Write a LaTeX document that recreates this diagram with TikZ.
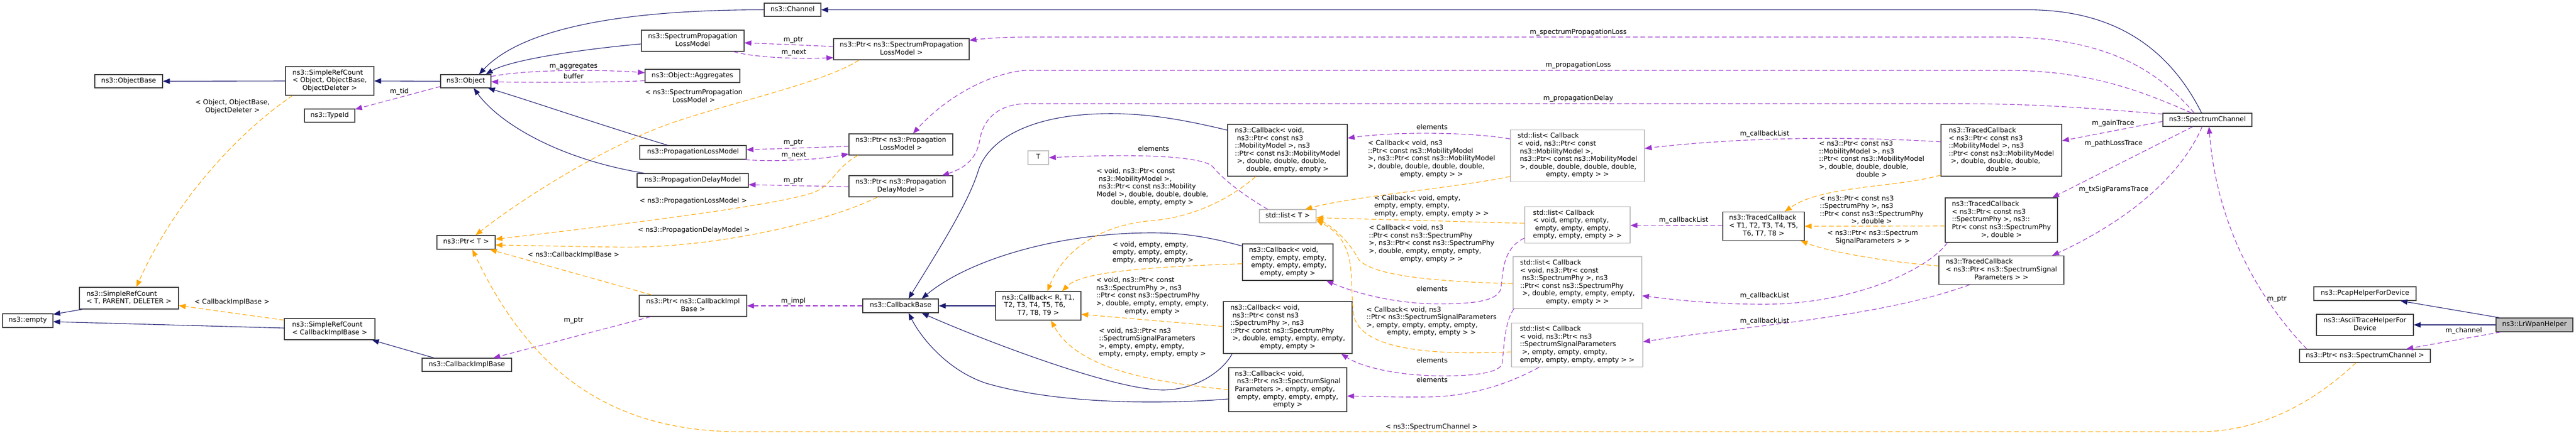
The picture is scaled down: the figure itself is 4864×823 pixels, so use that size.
\documentclass[tikz,border=0pt]{standalone}
\usepackage{fontspec}
\setmainfont{DejaVu Sans}
\usetikzlibrary{arrows.meta}
\definecolor{inhc}{HTML}{191970}
\definecolor{usec}{HTML}{9A32CD}
\definecolor{tplc}{HTML}{FFA500}
\definecolor{bordc}{HTML}{404040}
\definecolor{greyc}{HTML}{BFBFBF}
\newcommand\dfont{\fontsize{12.7bp}{14.6bp}\selectfont}
\newcommand\mlines[2]{\begin{tabular}{@{}l@{}}#1\\\multicolumn{1}{@{}c@{}}{#2}\end{tabular}}
\begin{document}
\begin{tikzpicture}[x=1bp,y=-1bp,
  box/.style={draw=bordc, line width=1.2bp, fill=white, inner sep=0pt, font=\dfont, text=black},
  lbox/.style={box, draw=greyc},
  sz/.style 2 args={minimum width=#1bp, minimum height=#2bp},
  lbl/.style={inner sep=0pt, font=\dfont, text=black},
  tipA/.style={-{Triangle[length=13bp,width=10bp]}},
  inh/.style={draw=inhc, line width=1.1bp, tipA},
  use/.style={draw=usec, line width=1.1bp, dash pattern=on 9bp off 5bp, tipA},
  tpl/.style={draw=tplc, line width=1.1bp, dash pattern=on 9bp off 5bp, tipA}]
\fill[white] (0,0) rectangle (4864,823);
\useasboundingbox (0,0) rectangle (4864,823);

% ---------------- nodes ----------------
\node[box,sz={128}{25}] (ObjectBase) at (243,153.5) {\strut ns3::ObjectBase};
\node[box,sz={167}{54}] (SRCObj) at (622.5,153) {\mlines{ns3::SimpleRefCount\\< Object, ObjectBase,}{ObjectDeleter >}};
\node[box,sz={95}{25}] (TypeId) at (622.5,218.5) {\strut ns3::TypeId};
\node[box,sz={187}{41}] (SRCT) at (243.5,563.5) {\mlines{ns3::SimpleRefCount}{< T, PARENT, DELETER >}};
\node[box,sz={95}{26}] (Empty) at (52.5,606) {\strut ns3::empty};
\node[box,sz={171}{40}] (SRCCIB) at (622.5,622) {\mlines{ns3::SimpleRefCount}{< CallbackImplBase >}};
\node[box,sz={95}{25}] (Object) at (879.5,153.5) {\strut ns3::Object};
\node[box,sz={107}{25}] (Channel) at (1496.5,18.5) {\strut ns3::Channel};
\node[box,sz={194}{40}] (SPLM) at (1308,77) {\mlines{ns3::SpectrumPropagation}{LossModel}};
\node[box,sz={179}{25}] (Aggregates) at (1307.5,143.5) {\strut ns3::Object::Aggregates};
\node[box,sz={201}{26}] (PLM) at (1308.5,288) {\strut ns3::PropagationLossModel};
\node[box,sz={210}{26}] (PDM) at (1308,341) {\strut ns3::PropagationDelayModel};
\node[box,sz={110}{26}] (PtrT) at (880,458) {\strut ns3::Ptr< T >};
\node[box,sz={203}{40}] (PtrCIB) at (1308.5,578) {\mlines{ns3::Ptr< ns3::CallbackImpl}{Base >}};
\node[box,sz={169}{25}] (CIB) at (881.5,689.5) {\strut ns3::CallbackImplBase};
\node[box,sz={256}{40}] (PtrSPLM) at (1702,93) {\mlines{ns3::Ptr< ns3::SpectrumPropagation}{LossModel >}};
\node[box,sz={196}{40}] (PtrPLM) at (1701,273) {\mlines{ns3::Ptr< ns3::Propagation}{LossModel >}};
\node[box,sz={196}{40}] (PtrPDM) at (1701,352) {\mlines{ns3::Ptr< ns3::Propagation}{DelayModel >}};
\node[lbox,sz={39}{26}] (T) at (1960.5,298) {\strut T};
\node[box,sz={143}{26}] (CallbackBase) at (1700.5,578) {\strut ns3::CallbackBase};
\node[box,sz={161}{54}] (CallbackR) at (1960.5,578) {\mlines{ns3::Callback< R, T1,\\ \ T2, T3, T4, T5, T6,}{T7, T8, T9 >}};
\node[box,sz={226}{98}] (CbMob) at (2431,284) {\mlines{ns3::Callback< void,\\ \ ns3::Ptr< const ns3\\::MobilityModel >, ns3\\::Ptr< const ns3::MobilityModel\\ \ >, double, double, double,}{double, empty, empty >}};
\node[box,sz={171}{69}] (CbEmpty) at (2431.5,495.5) {\mlines{ns3::Callback< void,\\ \ empty, empty, empty,\\ \ empty, empty, empty,}{empty, empty >}};
\node[box,sz={243}{98}] (CbPhy) at (2431.5,619) {\mlines{ns3::Callback< void,\\ \ ns3::Ptr< const ns3\\::SpectrumPhy >, ns3\\::Ptr< const ns3::SpectrumPhy\\ \ >, double, empty, empty, empty,}{empty, empty >}};
\node[box,sz={223}{83}] (CbSig) at (2431.5,736.5) {\mlines{ns3::Callback< void,\\ \ ns3::Ptr< ns3::SpectrumSignal\\Parameters >, empty, empty,\\ \ empty, empty, empty, empty,}{empty >}};
\node[lbox,sz={107}{25}] (ListT) at (2431.5,408.5) {\strut std::list< T >};
\node[lbox,sz={253}{98}] (ListMob) at (2978.5,294.5) {\mlines{std::list< Callback\\< void, ns3::Ptr< const\\ \ ns3::MobilityModel >,\\ \ ns3::Ptr< const ns3::MobilityModel\\ \ >, double, double, double, double,}{empty, empty > >}};
\node[lbox,sz={199}{69}] (ListEmpty) at (2978.5,425) {\mlines{std::list< Callback\\< void, empty, empty,\\ \ empty, empty, empty,}{empty, empty, empty > >}};
\node[lbox,sz={243}{98}] (ListPhy) at (2978.5,534) {\mlines{std::list< Callback\\< void, ns3::Ptr< const\\ \ ns3::SpectrumPhy >, ns3\\::Ptr< const ns3::SpectrumPhy\\ \ >, double, empty, empty, empty,}{empty, empty > >}};
\node[lbox,sz={248}{83}] (ListSig) at (2978,652) {\mlines{std::list< Callback\\< void, ns3::Ptr< ns3\\::SpectrumSignalParameters\\ \ >, empty, empty, empty,}{empty, empty, empty, empty > >}};
\node[box,sz={228}{98}] (TCMob) at (3779,284) {\mlines{ns3::TracedCallback\\< ns3::Ptr< const ns3\\::MobilityModel >, ns3\\::Ptr< const ns3::MobilityModel\\ \ >, double, double, double,}{double >}};
\node[box,sz={154}{54}] (TCT) at (3330,427.5) {\mlines{ns3::TracedCallback\\< T1, T2, T3, T4, T5,}{T6, T7, T8 >}};
\node[box,sz={212}{84}] (TCPhy) at (3779,416) {\mlines{ns3::TracedCallback\\< ns3::Ptr< const ns3\\::SpectrumPhy >, ns3::\\Ptr< const ns3::SpectrumPhy}{>, double >}};
\node[box,sz={236}{54}] (TCSig) at (3779,510.5) {\mlines{ns3::TracedCallback\\< ns3::Ptr< ns3::SpectrumSignal}{Parameters > >}};
\node[box,sz={168}{25}] (SC) at (4168,226.5) {\strut ns3::SpectrumChannel};
\node[box,sz={193}{26}] (Pcap) at (4465.5,555) {\strut ns3::PcapHelperForDevice};
\node[box,sz={183}{40}] (Ascii) at (4465.5,614) {\mlines{ns3::AsciiTraceHelperFor}{Device}};
\node[box,sz={145}{26},fill=greyc] (LrWpan) at (4785.5,614) {\strut ns3::LrWpanHelper};
\node[box,sz={247}{25}] (PtrSC) at (4465.5,672.5) {\strut ns3::Ptr< ns3::SpectrumChannel >};

% ---------------- inheritance ----------------
\draw[inh] (SRCObj.west) -- (ObjectBase.east);
\draw[inh] (Object.west) -- (SRCObj.east);
\draw[inh] (Channel.west) .. controls (1150,18.5) and (980,60) .. ([xshift=25bp]Object.north);
\draw[inh] ([yshift=-6bp]SPLM.west) .. controls (1080,95) and (960,115) .. ([xshift=38bp]Object.north);
\draw[inh] ([xshift=-48bp]PLM.north) .. controls (1130,235) and (1000,190) .. ([xshift=42bp]Object.south);
\draw[inh] ([xshift=-91bp]PDM.north) .. controls (1050,300) and (940,230) .. ([xshift=15bp]Object.south);
\draw[inh] ([xshift=-11bp]SC.north) .. controls (4090,80) and (3980,18.5) .. (3828,18.5) -- (Channel.east);
\draw[inh] ([yshift=38bp]CbMob.west) .. controls (2230,225) and (2160,213) .. (2080,215) .. controls (1950,218) and (1870,260) .. (1848,320) .. controls (1830,380) and (1780,460) .. ([xshift=15bp]CallbackBase.north);
\draw[inh] ([yshift=30.5bp]CbEmpty.west) .. controls (2290,450) and (2240,440) .. (2175,440) .. controls (2000,440) and (1830,490) .. ([xshift=40bp]CallbackBase.north);
\draw[inh] (CallbackR.west) -- (CallbackBase.east);
\draw[inh] ([xshift=-105bp]CbPhy.south) .. controls (2310,700) and (2260,737) .. (2196,737) .. controls (2100,737) and (1850,640) .. ([xshift=40bp]CallbackBase.south);
\draw[inh] ([yshift=-17.5bp]CbSig.west) .. controls (2200,764) and (2000,765) .. (1861,724) .. controls (1790,700) and (1740,640) .. ([xshift=15bp]CallbackBase.south);
\draw[inh] ([xshift=-62bp]CIB.north) -- ([xshift=80bp]SRCCIB.south);
\draw[inh] ([yshift=2bp]SRCCIB.west) -- ([yshift=-2bp]Empty.east);
\draw[inh] ([xshift=-88bp]SRCT.south) -- ([yshift=12bp]Empty.east);
\draw[inh] ([xshift=-66bp]LrWpan.north) -- ([xshift=67bp]Pcap.south);
\draw[inh] (LrWpan.west) -- (Ascii.east);

% ---------------- usage ----------------
\draw[use] ([yshift=-10bp]Object.west) -- ([yshift=12bp]TypeId.east);
\draw[use] ([yshift=9bp]Object.east) .. controls (1000,130) and (1150,132) .. ([yshift=6bp]Aggregates.west);
\draw[use] ([yshift=-9bp]Aggregates.west) .. controls (1150,156) and (1000,156) .. ([yshift=-1bp]Object.east);
\draw[use] ([yshift=5bp]PtrSPLM.west) .. controls (1510,85) and (1460,83) .. ([yshift=-4bp]SPLM.east);
\draw[use] ([xshift=77bp]SPLM.south) .. controls (1420,108) and (1500,112) .. ([yshift=-16bp]PtrSPLM.west);
\draw[use] ([yshift=-3.5bp]PtrPLM.west) -- ([yshift=5bp]PLM.east);
\draw[use] ([xshift=-3bp]PLM.south east) .. controls (1450,306) and (1540,303) .. ([yshift=-18bp]PtrPLM.west);
\draw[use] ([yshift=-1bp]PtrPDM.west) -- ([yshift=-8bp]PDM.east);
\draw[use] ([xshift=-80bp]PtrCIB.south) -- ([xshift=50bp]CIB.north);
\draw[use] (CallbackBase.west) -- (PtrCIB.east);
\draw[use] ([xshift=-25bp]SC.north) .. controls (4080,140) and (3990,75) .. (3800,70) -- (1940,70) .. controls (1890,70) and (1860,73) .. ([yshift=17bp]PtrSPLM.east);
\draw[use] ([xshift=-30bp]SC.north) .. controls (4060,180) and (3960,135) .. (3800,133) -- (1935,133) .. controls (1860,140) and (1780,190) .. ([xshift=23bp]PtrPLM.north);
\draw[use] ([yshift=11bp]SC.west) .. controls (3950,205) and (3850,196) .. (3700,196) -- (1935,196) .. controls (1880,198) and (1855,230) .. (1850,265) .. controls (1843,305) and (1815,320) .. ([xshift=78bp]PtrPDM.north);
\draw[use] ([yshift=-3bp]SC.west) -- ([yshift=18bp]TCMob.east);
\draw[use] ([xshift=-28bp]SC.south) -- ([xshift=96bp]TCPhy.north);
\draw[use] ([xshift=-10bp]SC.south) .. controls (4110,350) and (3990,430) .. ([xshift=96bp]TCSig.north);
\draw[use] ([xshift=-110bp]PtrSC.north) .. controls (4260,560) and (4185,420) .. ([xshift=3bp]SC.south);
\draw[use] ([xshift=-64bp]LrWpan.south) -- ([xshift=78bp]PtrSC.north);
\draw[use] ([yshift=16bp]TCMob.west) .. controls (3500,258) and (3300,258) .. ([yshift=14bp]ListMob.east);
\draw[use] ([yshift=1bp]TCT.west) -- ([yshift=-1bp]ListEmpty.east);
\draw[use] ([xshift=-102bp]TCPhy.south) .. controls (3640,510) and (3500,575) .. (3330,575) .. controls (3230,575) and (3150,565) .. ([yshift=-25bp]ListPhy.east);
\draw[use] ([xshift=-60bp]TCSig.south) .. controls (3550,600) and (3300,615) .. ([yshift=6bp]ListSig.east);
\draw[use] ([yshift=32bp]ListMob.west) .. controls (2780,250) and (2640,248) .. ([yshift=23bp]CbMob.east);
\draw[use] ([yshift=-25bp]ListEmpty.west) .. controls (2835,470) and (2838,520) .. (2834,545) .. controls (2828,570) and (2780,575) .. (2703,574) .. controls (2620,572) and (2550,550) .. ([xshift=73bp]CbEmpty.south);
\draw[use] ([xshift=-120bp]ListPhy.south) .. controls (2840,610) and (2840,660) .. (2836,688) .. controls (2830,705) and (2780,712) .. (2703,710) .. controls (2620,707) and (2565,690) .. ([xshift=101bp]CbPhy.south);
\draw[use] ([xshift=-72bp]ListSig.south) .. controls (2850,725) and (2780,748) .. (2703,750) .. controls (2640,751) and (2590,749) .. ([yshift=-12bp]CbSig.east);
\draw[use] ([xshift=-38bp]ListT.north) .. controls (2350,370) and (2310,340) .. (2290,315) .. controls (2270,295) and (2150,290) .. (T.east);

% ---------------- template ----------------
\draw[tpl] ([xshift=-70bp]SRCObj.south) .. controls (450,250) and (330,380) .. ([xshift=14bp]SRCT.north);
\draw[tpl] ([yshift=17bp]SRCCIB.west) -- ([yshift=-14bp]SRCT.east);
\draw[tpl] ([xshift=-80bp]PtrSPLM.south) .. controls (1550,160) and (1350,200) .. (1245,241) .. controls (1120,290) and (980,380) .. ([xshift=18bp]PtrT.north);
\draw[tpl] ([xshift=-81bp]PtrPLM.south) .. controls (1580,315) and (1570,350) .. (1540,362) .. controls (1500,380) and (1300,410) .. ([yshift=6bp]PtrT.east);
\draw[tpl] ([xshift=-44bp]PtrPDM.south) .. controls (1560,420) and (1350,470) .. (1166,467) .. controls (1080,466) and (1000,464) .. ([yshift=-5bp]PtrT.east);
\draw[tpl] ([xshift=-78bp]PtrCIB.north) -- ([xshift=45bp]PtrT.south);
\draw[tpl] ([xshift=-17bp]PtrSC.south) .. controls (4380,750) and (4280,816) .. (4150,816) -- (1400,816) .. controls (1150,816) and (1000,700) .. ([xshift=12bp]PtrT.south);
\draw[tpl] ([xshift=-60bp]CbMob.south) .. controls (2330,370) and (2260,410) .. (2175,417) .. controls (2080,425) and (2010,470) .. ([xshift=17bp]CallbackR.north);
\draw[tpl] ([yshift=-3bp]CbEmpty.west) .. controls (2150,505) and (2040,515) .. ([xshift=45bp]CallbackR.north);
\draw[tpl] ([yshift=2bp]CbPhy.west) -- ([yshift=-16bp]CallbackR.east);
\draw[tpl] (CbSig.west) .. controls (2150,720) and (2030,690) .. ([xshift=24bp]CallbackR.south);
\draw[tpl] ([yshift=-39bp]ListMob.west) .. controls (2750,355) and (2560,370) .. ([xshift=33bp]ListT.north);
\draw[tpl] ([yshift=3bp]ListEmpty.west) -- ([yshift=-3bp]ListT.east);
\draw[tpl] ([yshift=-2bp]ListPhy.west) .. controls (2700,532) and (2590,520) .. (2565,490) .. controls (2550,460) and (2520,430) .. ([yshift=-5bp]ListT.east);
\draw[tpl] ([yshift=-13bp]ListSig.west) .. controls (2700,672) and (2575,660) .. (2557,600) .. controls (2545,540) and (2570,460) .. ([yshift=-8bp]ListT.east);
\draw[tpl] ([yshift=-47bp]TCMob.west) .. controls (3580,355) and (3440,350) .. ([xshift=40bp]TCT.north);
\draw[tpl] ([yshift=-11bp]TCPhy.west) -- (TCT.east);
\draw[tpl] ([yshift=8bp]TCSig.west) .. controls (3560,495) and (3450,475) .. ([xshift=70bp]TCT.south);

% ---------------- labels ----------------
\node[lbl] (lb1) at (439,202) {\mlines{< Object, ObjectBase,}{ObjectDeleter >}};
\node[lbl] (lb2) at (438,572) {\strut < CallbackImplBase >};
\node[lbl] (lb3) at (754,174) {\strut m\_tid};
\node[lbl] (lb4) at (1083,126) {\strut m\_aggregates};
\node[lbl] (lb5) at (1083,146) {\strut buffer};
\node[lbl] (lb6) at (1310,183) {\mlines{< ns3::SpectrumPropagation}{LossModel >}};
\node[lbl] (lb7) at (1498,76) {\strut m\_ptr};
\node[lbl] (lb8) at (1499,100) {\strut m\_next};
\node[lbl] (lb9) at (1498,270) {\strut m\_ptr};
\node[lbl] (lb10) at (1499,294) {\strut m\_next};
\node[lbl] (lb11) at (1498,342) {\strut m\_ptr};
\node[lbl] (lb12) at (1309,381) {\strut < ns3::PropagationLossModel >};
\node[lbl] (lb13) at (1310,436) {\strut < ns3::PropagationDelayModel >};
\node[lbl] (lb14) at (1083,483) {\strut < ns3::CallbackImplBase >};
\node[lbl] (lb15) at (1498,570) {\strut m\_impl};
\node[lbl] (lb16) at (1083,606) {\strut m\_ptr};
\node[lbl] (lb17) at (2178,283) {\strut elements};
\node[lbl] (lb18) at (2176,354) {\mlines{< void, ns3::Ptr< const\\ \ ns3::MobilityModel >,\\ \ ns3::Ptr< const ns3::Mobility\\Model >, double, double, double,}{double, empty, empty >}};
\node[lbl] (lb19) at (2177,478) {\mlines{< void, empty, empty,\\empty, empty, empty,}{empty, empty, empty >}};
\node[lbl] (lb20) at (2176,560) {\mlines{< void, ns3::Ptr< const\\ns3::SpectrumPhy >, ns3\\::Ptr< const ns3::SpectrumPhy\\>, double, empty, empty, empty,}{empty, empty >}};
\node[lbl] (lb21) at (2176,648) {\mlines{< void, ns3::Ptr< ns3\\::SpectrumSignalParameters\\>, empty, empty, empty,}{empty, empty, empty, empty >}};
\node[lbl] (lb22) at (2980,62) {\strut m\_spectrumPropagationLoss};
\node[lbl] (lb23) at (2980,124) {\strut m\_propagationLoss};
\node[lbl] (lb24) at (2980,187) {\strut m\_propagationDelay};
\node[lbl] (lb25) at (2704,242) {\strut elements};
\node[lbl] (lb26) at (2703,301) {\mlines{< Callback< void, ns3\\::Ptr< const ns3::MobilityModel\\>, ns3::Ptr< const ns3::MobilityModel\\>, double, double, double, double,}{empty, empty > >}};
\node[lbl] (lb27) at (2703,390) {\mlines{< Callback< void, empty,\\empty, empty, empty,}{empty, empty, empty, empty > >}};
\node[lbl] (lb28) at (2703,461) {\mlines{< Callback< void, ns3\\::Ptr< const ns3::SpectrumPhy\\>, ns3::Ptr< const ns3::SpectrumPhy\\>, double, empty, empty, empty,}{empty, empty > >}};
\node[lbl] (lb29) at (2704,548) {\strut elements};
\node[lbl] (lb30) at (2703,608) {\mlines{< Callback< void, ns3\\::Ptr< ns3::SpectrumSignalParameters\\>, empty, empty, empty, empty,}{empty, empty, empty > >}};
\node[lbl] (lb31) at (2704,683) {\strut elements};
\node[lbl] (lb32) at (2704,720) {\strut elements};
\node[lbl] (lb33) at (2703,808) {\strut < ns3::SpectrumChannel >};
\node[lbl] (lb34) at (3179,417) {\strut m\_callbackList};
\node[lbl] (lb35) at (3332,254) {\strut m\_callbackList};
\node[lbl] (lb36) at (3332,560) {\strut m\_callbackList};
\node[lbl] (lb37) at (3332,608) {\strut m\_callbackList};
\node[lbl] (lb38) at (3534,302) {\mlines{< ns3::Ptr< const ns3\\::MobilityModel >, ns3\\::Ptr< const ns3::MobilityModel\\>, double, double, double,}{double >}};
\node[lbl] (lb39) at (3534,398) {\mlines{< ns3::Ptr< const ns3\\::SpectrumPhy >, ns3\\::Ptr< const ns3::SpectrumPhy}{>, double >}};
\node[lbl] (lb40) at (3536,449) {\mlines{< ns3::Ptr< ns3::Spectrum}{SignalParameters > >}};
\node[lbl] (lb41) at (3990,234) {\strut m\_gainTrace};
\node[lbl] (lb42) at (3991,272) {\strut m\_pathLossTrace};
\node[lbl] (lb43) at (3991,359) {\strut m\_txSigParamsTrace};
\node[lbl] (lb44) at (4299,566) {\strut m\_ptr};
\node[lbl] (lb45) at (4652,626) {\strut m\_channel};
\end{tikzpicture}
\end{document}
